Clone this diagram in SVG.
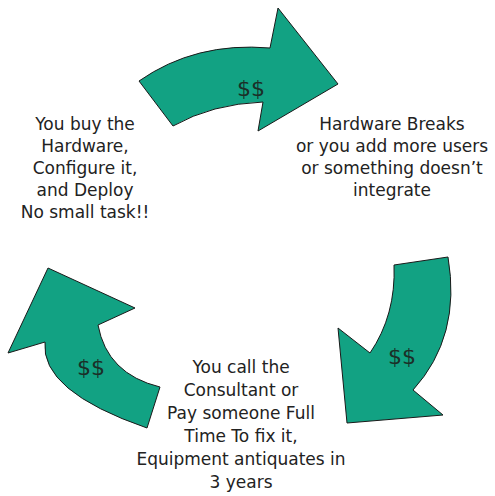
<svg xmlns="http://www.w3.org/2000/svg" width="495" height="496" viewBox="0 0 495 496">
  <style>
    .arrow { fill: #12a283; stroke: #1a1a1a; stroke-width: 1; stroke-linejoin: miter; }
    .lbl { font-family: "DejaVu Sans", Verdana, sans-serif; font-size: 17px; fill: #222; text-anchor: middle; }
    .money { font-family: "DejaVu Sans", Verdana, sans-serif; font-size: 22px; fill: #1b2f28; text-anchor: middle; }
  </style>
  <rect width="495" height="496" fill="#ffffff"/>
  <g id="connectors">
    <g id="arrow-top">
      <path class="arrow" d="M139,81 Q195.5,41.5 270,48 L278,8 L338,84 L258,131 L263,102 Q212,104 173,126 Z"/>
      <text class="money" x="251" y="96">$$</text>
    </g>
    <g id="arrow-right">
      <path class="arrow" d="M394,265 L448,257 Q461.5,336.5 413,390 L443,415 L347,423 L338,328 L370,353 Q396,315 394,265 Z"/>
      <text class="money" x="402" y="364">$$</text>
    </g>
    <g id="arrow-left">
      <path class="arrow" d="M48,268 L135,308 L98,325 Q107,374 160,387 L147,428 Q40,391 45,342 L8,353 Z"/>
      <text class="money" x="91" y="375">$$</text>
    </g>
  </g>
  <g id="node-buy">
    <text class="lbl" x="85" y="130">You buy the</text>
    <text class="lbl" x="85" y="152">Hardware,</text>
    <text class="lbl" x="85" y="174">Configure it,</text>
    <text class="lbl" x="85" y="196">and Deploy</text>
    <text class="lbl" x="85" y="218">No small task!!</text>
  </g>
  <g id="node-breaks">
    <text class="lbl" x="392" y="130">Hardware Breaks</text>
    <text class="lbl" x="392" y="152">or you add more users</text>
    <text class="lbl" x="392" y="174">or something doesn’t</text>
    <text class="lbl" x="392" y="196">integrate</text>
  </g>
  <g id="node-consultant">
    <text class="lbl" x="241" y="373">You call the</text>
    <text class="lbl" x="241" y="396">Consultant or</text>
    <text class="lbl" x="241" y="419">Pay someone Full</text>
    <text class="lbl" x="241" y="442">Time To fix it,</text>
    <text class="lbl" x="241" y="465">Equipment antiquates in</text>
    <text class="lbl" x="241" y="488">3 years</text>
  </g>
</svg>
